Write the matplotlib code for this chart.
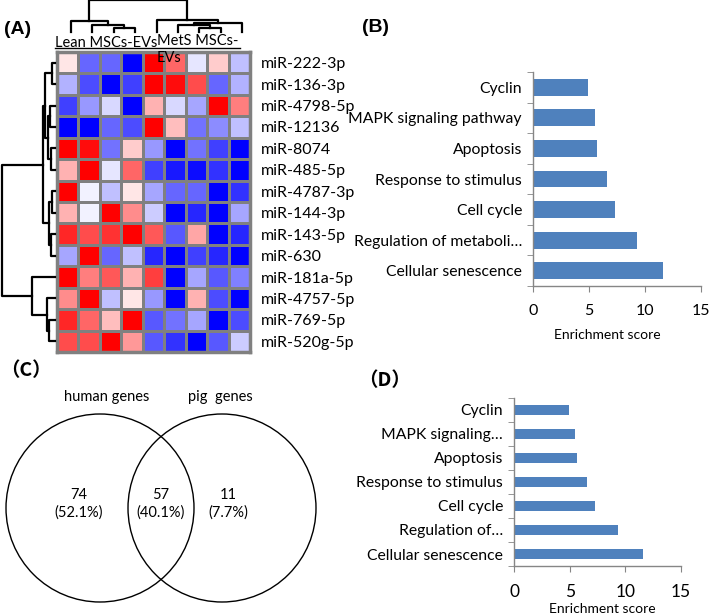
import numpy as np
import matplotlib.pyplot as plt
from matplotlib.patches import Circle
from matplotlib.lines import Line2D

plt.rcParams.update({'font.family': ['Lato', 'DejaVu Sans'],
                     'font.size': 11,
                     'axes.linewidth': 1.0})

W, H = 709, 615

# (A) heatmap of differentially expressed miRNAs
mirna = ['miR-222-3p', 'miR-136-3p', 'miR-4798-5p', 'miR-12136', 'miR-8074',
         'miR-485-5p', 'miR-4787-3p', 'miR-144-3p', 'miR-143-5p', 'miR-630',
         'miR-181a-5p', 'miR-4757-5p', 'miR-769-5p', 'miR-520g-5p']
groups = ['Lean MSCs-EVs', 'MetS MSCs-\nEVs']
zscore = np.array([
    [ 0.10, -0.60, -0.60, -1.00,  1.00,  0.60, -0.10,  0.20, -0.25],
    [-0.30, -0.70, -1.00, -0.75,  1.00,  0.95,  0.70, -0.60, -0.30],
    [-0.75, -0.40, -0.15, -1.00,  0.30, -0.15, -0.35,  1.00,  0.50],
    [-1.00, -1.00, -0.60, -0.70,  1.00,  0.25, -0.55, -0.45, -0.25],
    [ 1.00,  0.95, -0.55,  0.20, -0.40, -1.00, -0.55, -0.75, -1.00],
    [ 0.30,  1.00, -0.10,  0.60, -0.75, -0.90, -0.95, -0.80, -1.00],
    [ 1.00, -0.05, -0.25,  0.10, -0.35, -0.60, -0.60, -1.00, -0.80],
    [ 0.30, -0.05,  1.00,  0.45, -0.20, -1.00, -0.85, -1.00, -0.35],
    [ 0.85,  0.70,  0.80,  1.00,  0.65, -0.65,  0.35, -1.00, -0.85],
    [-0.35,  1.00, -0.60, -0.25, -0.85, -1.00, -0.75, -0.85, -1.00],
    [ 1.00,  0.50,  0.65,  0.30,  0.75, -1.00, -0.35, -0.65, -0.50],
    [ 0.45,  1.00, -0.25,  0.10, -0.40, -1.00,  0.30, -0.70, -1.00],
    [ 0.85,  0.60,  0.25,  1.00, -0.65, -0.55, -0.35, -1.00, -0.70],
    [ 0.70,  0.70,  1.00,  0.40, -0.65, -0.80, -1.00, -0.65, -0.20],
])

# linkage-like merges: (child a, child b, height); new nodes get index n, n+1, ...
col_merges = [(2, 3, 4), (1, 9, 7), (0, 10, 11), (6, 7, 4), (5, 12, 7),
              (13, 8, 9), (4, 14, 12), (11, 15, 32)]
row_merges = [(0, 1, 3), (2, 3, 5), (4, 5, 4), (15, 16, 7), (14, 17, 10),
              (6, 7, 3), (8, 9, 4), (19, 20, 6), (18, 21, 12), (12, 13, 6),
              (11, 23, 8), (10, 24, 23), (22, 25, 53)]

# (B)/(D) enrichment
terms_b = ['Cyclin', 'MAPK signaling pathway', 'Apoptosis', 'Response to stimulus',
           'Cell cycle', 'Regulation of metaboli\u2026', 'Cellular senescence']
terms_d = ['Cyclin', 'MAPK signaling\u2026', 'Apoptosis', 'Response to stimulus',
           'Cell cycle', 'Regulation of\u2026', 'Cellular senescence']
scores = [4.9, 5.5, 5.7, 6.6, 7.3, 9.3, 11.6]

# (C) venn
venn_sets = ['human genes', 'pig  genes']
venn_counts = [74, 57, 11]


def px(x0, y0, x1, y1):
    return [x0 / W, 1 - y1 / H, (x1 - x0) / W, (y1 - y0) / H]


def ftext(x, y, s, **kw):
    fig.text(x / W, 1 - y / H, s, **kw)


def dendro(merges, n):
    pos = list(np.arange(n) + 0.5)
    hgt = [0.0] * n
    segs = []
    for a, b, h in merges:
        segs.append(([pos[a], pos[a], pos[b], pos[b]], [hgt[a], h, h, hgt[b]]))
        pos.append((pos[a] + pos[b]) / 2)
        hgt.append(h)
    return segs


fig = plt.figure(figsize=(7.09, 6.15), dpi=100)

# heatmap
ax = fig.add_axes(px(57, 52, 250, 352))
ax.pcolormesh(zscore, cmap='bwr', vmin=-1, vmax=1, edgecolors='#808080', linewidth=2)
ax.set_xlim(0, zscore.shape[1])
ax.set_ylim(zscore.shape[0], 0)
ax.set_xticks([])
ax.set_yticks(np.arange(len(mirna)) + 0.5)
ax.set_yticklabels(mirna, fontsize=11.5)
ax.yaxis.tick_right()
ax.tick_params(axis='y', length=0, pad=8)
for s in ax.spines.values():
    s.set_color('#808080')
    s.set_linewidth(2.5)

axt = fig.add_axes(px(60, 0, 253, 32))
for xs, ys in dendro(col_merges, zscore.shape[1]):
    axt.plot(xs, ys, color='k', lw=1.6, clip_on=False)
axt.set_xlim(0, zscore.shape[1])
axt.set_ylim(0, 32.5)
axt.axis('off')

axl = fig.add_axes(px(0, 52, 55, 352))
for xs, ys in dendro(row_merges, zscore.shape[0]):
    axl.plot(ys, xs, color='k', lw=1.6, clip_on=False)
axl.set_xlim(55, 0)
axl.set_ylim(zscore.shape[0], 0)
axl.axis('off')

ftext(55, 36, groups[0], va='top', fontsize=10.5)
ftext(157, 34, groups[1], va='top', fontsize=10.5, linespacing=1.25)
fig.add_artist(Line2D([55 / W, 240 / W], [1 - 48 / H, 1 - 48 / H], color='k', lw=1))


def enrich(rect, terms, bar_h, lab_size, tick_size, labelpad, label_x):
    a = fig.add_axes(px(*rect))
    y = np.arange(len(terms))
    a.barh(y, scores, height=bar_h, color='#4F81BD')
    a.set_xlim(0, 15)
    a.set_ylim(len(terms) - 0.5, -0.5)
    a.set_yticks(y)
    a.set_yticklabels(terms, fontsize=lab_size)
    a.set_yticks(np.arange(len(terms) + 1) - 0.5, minor=True)
    a.set_xticks([0, 5, 10, 15])
    a.tick_params(axis='y', which='major', length=0, pad=8)
    a.tick_params(axis='y', which='minor', length=4, color='#868686')
    a.tick_params(axis='x', length=4, color='#868686', pad=9, labelsize=tick_size)
    for k in ['top', 'right']:
        a.spines[k].set_visible(False)
    for k in ['left', 'bottom']:
        a.spines[k].set_color('#868686')
    a.set_xlabel('Enrichment score', fontsize=10, labelpad=labelpad)
    a.xaxis.label.set_x(label_x)
    return a


enrich((533, 72, 701, 286), terms_b, 0.55, 11.3, 11.5, 8, 0.44)
enrich((514, 398, 681, 566), terms_d, 0.38, 11.3, 12.5, 2, 0.53)

# venn
axv = fig.add_axes(px(0, 390, 330, 615))
axv.set_xlim(0, 330)
axv.set_ylim(615, 390)
axv.axis('off')
r, cy = 94, 508
cx = [100, 222]
for c in cx:
    axv.add_patch(Circle((c, cy), r, fill=False, ec='k', lw=1))
total = sum(venn_counts)
spots = [(cx[0] + cx[1]) / 2 - 82, (cx[0] + cx[1]) / 2, (cx[0] + cx[1]) / 2 + 67]
for xv, n in zip(spots, venn_counts):
    axv.text(xv, cy - 4, f'{n}\n({100 * n / total:.1f}%)', ha='center', va='center',
             fontsize=10.5, linespacing=1.25)
axv.text(cx[0] + 7, 397, venn_sets[0], ha='center', va='center', fontsize=10.5)
axv.text(cx[1] - 2, 397, venn_sets[1], ha='center', va='center', fontsize=10.5)

# panel letters
ftext(4, 30, '(A)', fontsize=14, fontweight='bold', va='center', family='Liberation Sans')
ftext(362, 28, '(B)', fontsize=14, fontweight='bold', va='center', family='Liberation Sans')
ftext(0, 371, '（C）', fontsize=14, fontweight='bold', va='center',
      family=['Noto Sans CJK SC', 'DejaVu Sans'])
ftext(358, 381, '（D）', fontsize=14, fontweight='bold', va='center',
      family=['Noto Sans CJK SC', 'DejaVu Sans'])

fig.savefig('out.png', dpi=100)
